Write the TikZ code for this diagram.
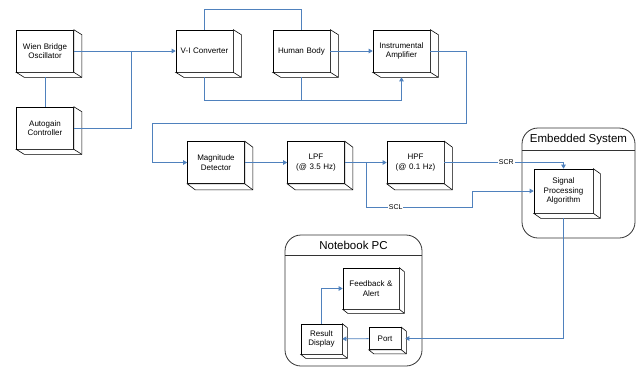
\documentclass[tikz,border=0pt]{standalone}
\usepackage{fontspec}
\setmainfont{Liberation Sans}
\usetikzlibrary{arrows.meta}
\definecolor{linkblue}{RGB}{79,129,189}

\begin{document}
\begin{tikzpicture}[x=1pt, y=-1pt]
    \tikzset{block/.style={rectangle, draw, fill=white, line width=0.6pt, inner sep=1pt, text width=52pt, align=center, minimum width=57pt, minimum height=42pt, font=\fontsize{8}{9.5}\selectfont},
        link/.style={draw=linkblue, line width=0.8pt, -{Triangle[length=4pt, width=4.5pt]}},
        plain/.style={draw=linkblue, line width=0.8pt},
        group/.style={draw=black!80, line width=0.8pt, rounded corners=16pt, fill=white},
        title/.style={font=\fontsize{11.5}{13}\selectfont},
        tag/.style={fill=white, inner sep=1pt, font=\fontsize{7}{8}\selectfont}};
    \useasboundingbox (0,0) rectangle (640,367);

    \draw[group] (522,128) rectangle (635,238);
    \draw[black!80, line width=0.8pt] (522,150) -- (635,150);
    \node[title] (embedded) at (578.5,139.5) {Embedded System};
    \draw[group] (285,235) rectangle (422,366);
    \draw[black!80, line width=0.8pt] (285,255) -- (422,255);
    \node[title] (notebook) at (353.5,245.5) {Notebook PC};

    \node[block] (wien) at (45,51) {Wien Bridge\\Oscillator};
    \node[block] (auto) at (45,128) {Autogain\\Controller};
    \node[block] (vi) at (204.5,51) {V-I Converter};
    \node[block] (body) at (301.5,51) {Human Body};
    \node[block] (amp) at (401.5,51) {Instrumental\\Amplifier};
    \node[block] (mag) at (216,162.5) {Magnitude\\Detector};
    \node[block] (lpf) at (316,162.5) {LPF\\(@ 3.5 Hz)};
    \node[block] (hpf) at (415.5,162.5) {HPF\\(@ 0.1 Hz)};
    \node[block, minimum width=59pt, minimum height=44pt] (spa) at (563.5,191) {Signal\\Processing\\Algorithm};
    \node[block, minimum width=56pt, minimum height=41pt] (feed) at (371,288.5) {Feedback \&\\Alert};
    \node[block, text width=38pt, minimum width=41pt, minimum height=30pt] (res) at (321.5,339) {Result\\Display};
    \node[block, text width=28pt, minimum width=32pt, minimum height=22pt] (port) at (385,338.5) {Port};

    \foreach \n/\dx/\dy in {wien/8/5, auto/8/5, vi/8/5, body/8/5, amp/8/5, mag/8/6, lpf/8/6, hpf/8/6, spa/7/5, feed/5/4, res/5/4, port/5/4} {
        \draw[line width=0.6pt, fill=white] (\n.north east) -- ++(\dx,\dy) -- ([shift={(\dx,\dy)}]\n.south east) -- ([shift={(\dx,\dy)}]\n.south west) -- (\n.south west) -- (\n.south east) -- cycle;
        \draw[line width=0.6pt] (\n.south east) -- ++(\dx,\dy);
    }

    \coordinate (join) at (131,51);
    \coordinate (split) at (366,162.5);
    \draw[link] (wien) -- (vi);
    \draw[plain] (auto) -| (join);
    \draw[plain] ([shift={(0,5)}]wien.south) -- (auto);
    \draw[plain] (vi.north) -- ++(0,-20) -| (body.north);
    \draw[link] ([shift={(0,5)}]vi.south) |- ([shift={(0,28)}]amp.south) -- ([shift={(0,5)}]amp.south);
    \draw[plain] ([shift={(0,5)}]body.south) -- ++(0,23);
    \draw[link] (body) -- (amp);
    \draw[link] (amp.east) -| (466,123) -- (152,123) |- (mag);
    \draw[link] (mag) -- (lpf);
    \draw[link] (lpf) -- (hpf);
    \draw[link] (split) |- node[tag, pos=0.64] {SCL} (472,207) |- (spa);
    \draw[link] (hpf) -| node[tag, pos=0.26] {SCR} (spa);
    \draw[link] ([shift={(0,5)}]spa.south) |- ([shift={(4,0)}]port.east);
    \draw[link] (port) -- (res);
    \draw[link] (res.north) |- (feed);
\end{tikzpicture}
\end{document}
